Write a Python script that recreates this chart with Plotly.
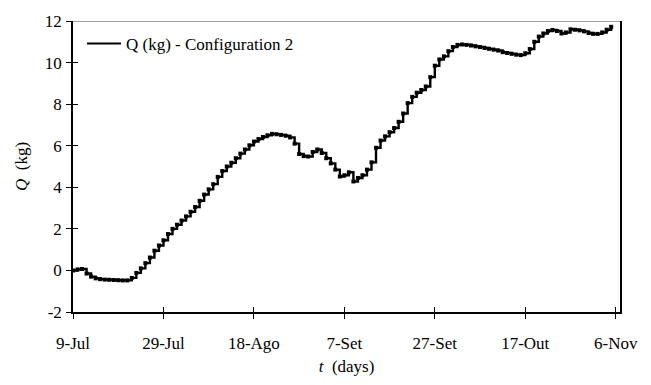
import plotly.graph_objects as go
import pandas as pd

start_date = "2010-07-09"
q_kg = [0.00, 0.05, 0.07, -0.15, -0.30, -0.38, -0.42, -0.44, -0.45, -0.46,
        -0.47, -0.48, -0.48, -0.36, -0.12, 0.10, 0.35, 0.62, 0.95, 1.20,
        1.45, 1.75, 2.00, 2.20, 2.40, 2.60, 2.82, 3.05, 3.35, 3.65,
        3.90, 4.15, 4.50, 4.78, 5.00, 5.18, 5.40, 5.62, 5.82, 6.02,
        6.20, 6.32, 6.42, 6.50, 6.57, 6.55, 6.52, 6.48, 6.40, 6.10,
        5.60, 5.50, 5.48, 5.70, 5.82, 5.65, 5.40, 5.15, 4.85, 4.52,
        4.58, 4.72, 4.28, 4.45, 4.58, 4.85, 5.20, 5.90, 6.25, 6.45,
        6.65, 6.85, 7.15, 7.55, 8.05, 8.35, 8.55, 8.68, 8.85, 9.30,
        9.85, 10.15, 10.30, 10.55, 10.75, 10.85, 10.87, 10.85, 10.82, 10.78,
        10.75, 10.70, 10.66, 10.62, 10.58, 10.50, 10.46, 10.42, 10.38, 10.36,
        10.45, 10.65, 11.00, 11.25, 11.40, 11.52, 11.57, 11.52, 11.40, 11.45,
        11.60, 11.58, 11.55, 11.50, 11.42, 11.38, 11.38, 11.45, 11.58, 11.72]
tick_dates = ["2010-07-09", "2010-07-29", "2010-08-18", "2010-09-07",
              "2010-09-27", "2010-10-17", "2010-11-06"]
tick_labels = ["9-Jul", "29-Jul", "18-Ago", "7-Set", "27-Set", "17-Out", "6-Nov"]
y_ticks = [-2, 0, 2, 4, 6, 8, 10, 12]
y_tick_labels = ["-2", "0", "2", "4", "6", "8", "10", "12"]

dates = pd.date_range(start_date, periods=len(q_kg), freq="D")
x_range = ["2010-07-09", "2010-11-06 22:48"]
y_range = [-2, 12]
FONT = "Liberation Serif"

fig = go.Figure()
fig.add_trace(go.Scatter(
    x=dates, y=q_kg, mode="lines+markers", line_shape="hv",
    line=dict(color="black", width=2.4),
    marker=dict(symbol="square", size=4, color="black"),
    showlegend=False))
fig.add_trace(go.Scatter(
    x=[None], y=[None], mode="lines", name="Q (kg) - Configuration 2",
    line=dict(color="black", width=2.2), xaxis="x2", yaxis="y2"))

fig.update_layout(
    width=651, height=385,
    margin=dict(l=73, r=31, t=17, b=66),
    paper_bgcolor="white", plot_bgcolor="white",
    font=dict(family=FONT, size=17, color="black"),
    xaxis=dict(type="date", range=x_range, tickvals=tick_dates, ticktext=tick_labels,
               showgrid=False, zeroline=False, showline=True, linecolor="black",
               linewidth=1.5, ticks="outside", ticklen=5, tickwidth=1, tickcolor="black",
               ticklabelstandoff=10, tickfont=dict(family=FONT, size=17),
               title=dict(text="<i>t</i>  (days)", standoff=8,
                          font=dict(family=FONT, size=17))),
    yaxis=dict(range=y_range, tickvals=y_ticks, ticktext=y_tick_labels,
               showgrid=False, zeroline=False,
               showline=True, linecolor="black", linewidth=1.5, mirror=True,
               ticks="outside", ticklen=5, tickwidth=1, tickcolor="black",
               ticklabelstandoff=1, tickfont=dict(family=FONT, size=17),
               title=dict(text="<i>Q</i>  (kg)", standoff=13,
                          font=dict(family=FONT, size=17))),
    xaxis2=dict(type="date", range=x_range, tickvals=tick_dates, overlaying="x",
                anchor="y2", side="bottom", showticklabels=False, showgrid=False,
                zeroline=False, showline=False, ticks="inside", ticklen=5,
                tickwidth=1, tickcolor="black"),
    yaxis2=dict(range=y_range, tickvals=y_ticks, overlaying="y", anchor="x2",
                side="left", showticklabels=False, showgrid=False, zeroline=False,
                showline=False, ticks="inside", ticklen=5, tickwidth=1,
                tickcolor="black"),
    legend=dict(x=0.0165, y=0.983, xanchor="left", yanchor="top",
                bgcolor="rgba(0,0,0,0)", font=dict(family=FONT, size=17),
                itemwidth=34),
    shapes=[dict(type="line", xref="paper", yref="y", x0=0, x1=1, y0=12, y1=12,
                 line=dict(color="#808080", width=1.5))],
)

fig.write_html("out.html", config={"displayModeBar": False},
               post_script="document.body.style.margin='0';document.body.style.padding='0';")
